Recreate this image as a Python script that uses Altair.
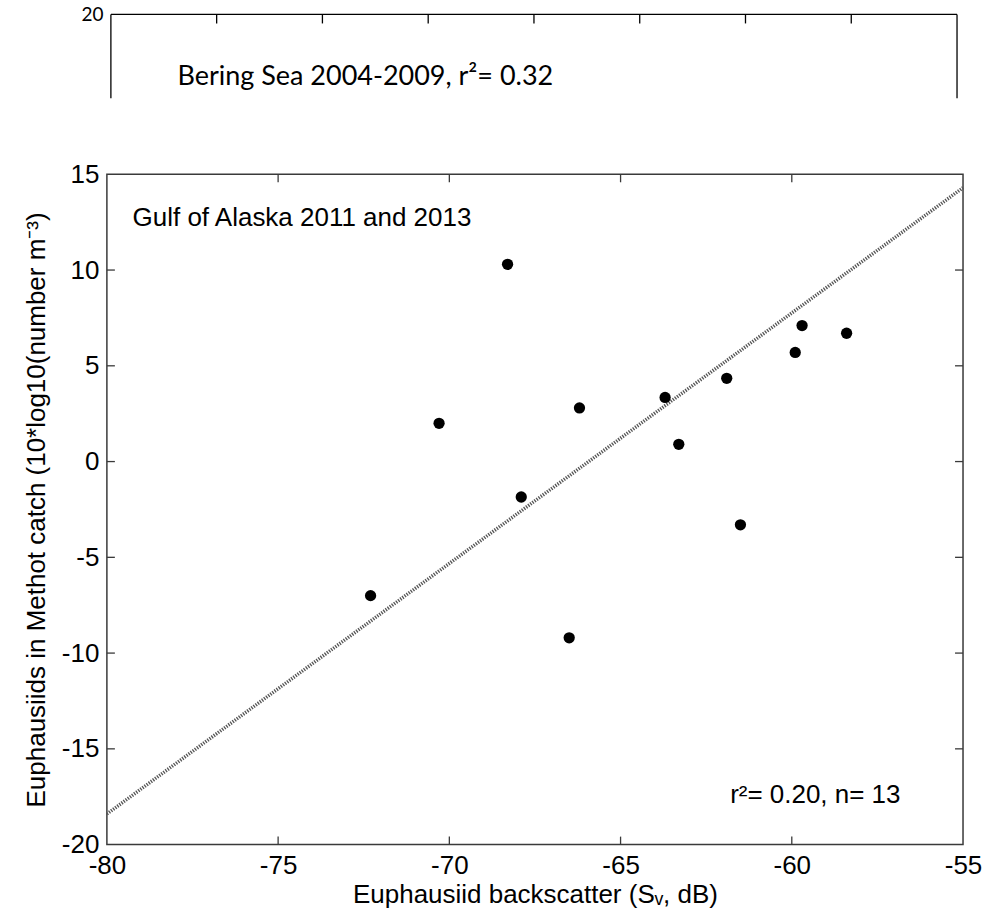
import altair as alt
import pandas as pd

# ---------------- data ----------------
sv_db = [-72.3, -70.3, -68.3, -67.9, -66.5, -66.2, -63.7, -63.3, -61.9, -61.5, -59.9, -59.7, -58.4]
catch_db = [-7.0, 2.0, 10.3, -1.85, -9.2, 2.8, 3.35, 0.9, 4.35, -3.3, 5.7, 7.1, 6.7]
fit_sv = [-80.0, -55.0]
fit_catch = [-18.4, 14.3]
x_tick_values = [-80, -75, -70, -65, -60, -55]
y_tick_values = [-20, -15, -10, -5, 0, 5, 10, 15]
inner_x_ticks = [-75, -70, -65, -60]
inner_y_ticks = [-15, -10, -5, 0, 5, 10]
gulf_label = ["Gulf of Alaska 2011 and 2013"]
gulf_pos = [-79.25, 12.7]
stats_label = ["r²= 0.20, n= 13"]
stats_pos = [-61.8, -17.4]
# cropped upper panel
top_tick_positions = [1, 2, 3, 4, 5, 6, 7]
top_frame = [0, 8]
top_y_labels = [20]
bering_label = ["Bering Sea 2004-2009, r²= 0.32"]
bering_pos = [0.63, 16.46]

W, H = 857, 671
TW, TH = 851, 84
FONT = "Liberation Sans"
TOPFONT = "Lato"
FS = 26
FRAME = "#3a3a3a"

df_pts = pd.DataFrame({"sv": sv_db, "catch": catch_db})
df_fit = pd.DataFrame({"sv": fit_sv, "catch": fit_catch})
df_xt = pd.DataFrame({"sv": inner_x_ticks})
df_yt = pd.DataFrame({"catch": inner_y_ticks})
df_gulf = pd.DataFrame({"sv": [gulf_pos[0]], "catch": [gulf_pos[1]], "label": gulf_label})
df_stats = pd.DataFrame({"sv": [stats_pos[0]], "catch": [stats_pos[1]], "label": stats_label})

xs = alt.Scale(domain=[-80, -55], nice=False, zero=False)
ys = alt.Scale(domain=[-20, 15], nice=False, zero=False)

x_axis = alt.Axis(values=x_tick_values, title="Euphausiid backscatter (Sᵥ, dB)",
                  ticks=False, domain=False, grid=False,
                  labelFont=FONT, labelFontSize=FS, labelColor="black", labelPadding=8,
                  labelExpr="'' + datum.value", labelFlush=False,
                  titleFont=FONT, titleFontSize=FS, titleFontWeight="normal",
                  titleColor="black", titlePadding=3)
y_axis = alt.Axis(values=y_tick_values, title="Euphausiids in Methot catch (10*log10(number m⁻³)",
                  ticks=False, domain=False, grid=False,
                  labelFont=FONT, labelFontSize=FS, labelColor="black", labelPadding=8,
                  labelExpr="'' + datum.value", labelFlush=False,
                  titleFont=FONT, titleFontSize=FS, titleFontWeight="normal",
                  titleColor="black", titlePadding=12)

X = alt.X("sv:Q", scale=xs, axis=x_axis)
Y = alt.Y("catch:Q", scale=ys, axis=y_axis)

fit = alt.Chart(df_fit).mark_line(color="#555555", strokeWidth=3.5, strokeDash=[1.3, 1.3]).encode(x=X, y=Y)
pts = alt.Chart(df_pts).mark_circle(size=127, color="black", opacity=1).encode(x=X, y=Y)
bt = alt.Chart(df_xt).mark_rule(color=FRAME, strokeWidth=1.3).encode(x=X, y=alt.value(H), y2=alt.value(H - 8))
tt = alt.Chart(df_xt).mark_rule(color=FRAME, strokeWidth=1.3).encode(x=X, y=alt.value(0), y2=alt.value(8))
lt = alt.Chart(df_yt).mark_rule(color=FRAME, strokeWidth=1.3).encode(y=Y, x=alt.value(0), x2=alt.value(8))
rt = alt.Chart(df_yt).mark_rule(color=FRAME, strokeWidth=1.3).encode(y=Y, x=alt.value(W), x2=alt.value(W - 8))
gulf = alt.Chart(df_gulf).mark_text(align="left", baseline="middle", font=FONT, fontSize=FS, color="black").encode(x=X, y=Y, text="label:N")
stats = alt.Chart(df_stats).mark_text(align="left", baseline="middle", font=FONT, fontSize=FS, color="black").encode(x=X, y=Y, text="label:N")

main = alt.layer(fit, pts, bt, tt, lt, rt, gulf, stats).properties(
    width=W, height=H, view=alt.ViewBackground(stroke=FRAME, strokeWidth=1.5))

# ---------------- cropped upper panel ----------------
txs = alt.Scale(domain=[-0.0378, 8], nice=False, zero=False)
tys = alt.Scale(domain=[15.28, 20], nice=False, zero=False)
top_x_axis = alt.Axis(orient="top", labels=False, ticks=False, domain=False, grid=False, title=None)
top_y_axis = alt.Axis(values=top_y_labels, ticks=False, domain=False, grid=False, title=None,
                      labelFont=TOPFONT, labelFontSize=19, labelColor="black",
                      labelPadding=8, labelFlush=False, offset=-4)
df_bering = pd.DataFrame({"p": [bering_pos[0]], "v": [bering_pos[1]], "label": bering_label})
df_tt = pd.DataFrame({"p": top_tick_positions})
df_frame = pd.DataFrame({"p": [top_frame[0]], "p2": [top_frame[1]]})
df_sides = pd.DataFrame({"p": top_frame})
TX = alt.X("p:Q", scale=txs, axis=top_x_axis)
TY = alt.Y("v:Q", scale=tys, axis=top_y_axis)

btext = alt.Chart(df_bering).mark_text(align="left", baseline="middle", font=TOPFONT, fontSize=27, color="black").encode(x=TX, y=TY, text="label:N")
tticks = alt.Chart(df_tt).mark_rule(color="black", strokeWidth=1.3).encode(x=TX, y=alt.value(0), y2=alt.value(9))
tline = alt.Chart(df_frame).mark_rule(color="black", strokeWidth=1.3).encode(x=TX, x2="p2:Q", y=alt.value(0))
tsides = alt.Chart(df_sides).mark_rule(color="black", strokeWidth=1.3).encode(x=TX, y=alt.value(0), y2=alt.value(TH))

top = alt.layer(btext, tticks, tline, tsides).properties(width=TW, height=TH)

chart = alt.vconcat(top, main, spacing=61).properties(
    padding={"left": 22, "top": 5, "right": 0, "bottom": 4}, background="white"
).configure_view(stroke=None)

chart.save("out.html", embed_options={"renderer": "svg", "actions": False})
